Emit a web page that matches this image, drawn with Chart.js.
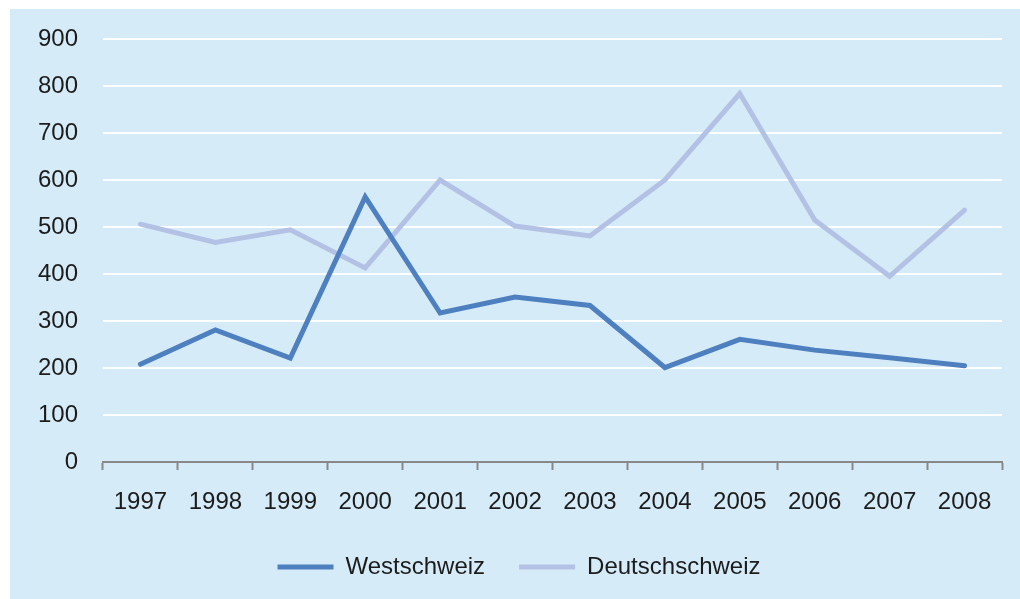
<!DOCTYPE html>
<html>
<head>
<meta charset="utf-8">
<script src="https://cdn.jsdelivr.net/npm/chart.js@4/dist/chart.umd.min.js"></script>
<style>
    html, body { margin: 0; padding: 0; background: #fff; }
    #wrap { position: absolute; left: 10px; top: 9px; width: 1010px; height: 590px; background: #d6ebf8; }
</style>
</head>
<body>
<div id="wrap"><canvas id="chart"></canvas></div>
<script>
// ─── Data ─────────────────────────────────────────────────────────────────────
const years = ['1997', '1998', '1999', '2000', '2001', '2002', '2003', '2004', '2005', '2006', '2007', '2008'];
const westschweiz = [208, 281, 221, 564, 317, 351, 333, 201, 261, 238, 222, 205];
const deutschschweiz = [506, 467, 494, 413, 600, 502, 481, 600, 784, 515, 395, 536];
const yTicks = [0, 100, 200, 300, 400, 500, 600, 700, 800, 900];

const FONT = { family: '"Liberation Sans", Arial, sans-serif', size: 24 };
const TEXT = '#1c1c1c';

// ─── Chart ────────────────────────────────────────────────────────────────────
new Chart(document.getElementById('chart'), {
    type: 'line',
    data: {
        labels: years,
        datasets: [
            { label: 'Westschweiz', data: westschweiz, borderColor: '#4e80c0', backgroundColor: '#4e80c0', borderWidth: 5, pointRadius: 0, borderCapStyle: 'round', borderJoinStyle: 'miter', tension: 0 },
            { label: 'Deutschschweiz', data: deutschschweiz, borderColor: '#b3c2e4', backgroundColor: '#b3c2e4', borderWidth: 5, pointRadius: 0, borderCapStyle: 'round', borderJoinStyle: 'miter', tension: 0 }
        ]
    },
    options: {
        responsive: true,
        maintainAspectRatio: false,
        animation: false,
        // left padding nudges the centred legend a little to the right
        layout: { padding: { top: 30, right: 18, bottom: 10, left: 26 } },
        plugins: {
            tooltip: { enabled: false },
            legend: {
                position: 'bottom',
                labels: { usePointStyle: true, pointStyle: 'line', pointStyleWidth: 56, boxHeight: 5, padding: 34, color: TEXT, font: FONT }
            }
        },
        scales: {
            x: {
                offset: true,
                grid: { offset: true, drawOnChartArea: false, drawTicks: true, tickLength: 8, tickColor: '#888', tickWidth: 2 },
                border: { display: true, color: '#888', width: 2 },
                ticks: { color: TEXT, font: FONT, padding: 18, maxRotation: 0 },
                afterFit: s => { s.height = 59; }
            },
            y: {
                min: 0, max: 900,
                afterBuildTicks: s => { s.ticks = yTicks.map(v => ({ value: v })); },
                grid: { color: '#fff', lineWidth: 2, drawTicks: true, tickLength: 25, tickColor: 'rgba(0,0,0,0)' },
                border: { display: false },
                ticks: { color: TEXT, font: FONT, padding: 0 },
                afterFit: s => { s.width = 67; }
            }
        }
    }
});
</script>
</body>
</html>
